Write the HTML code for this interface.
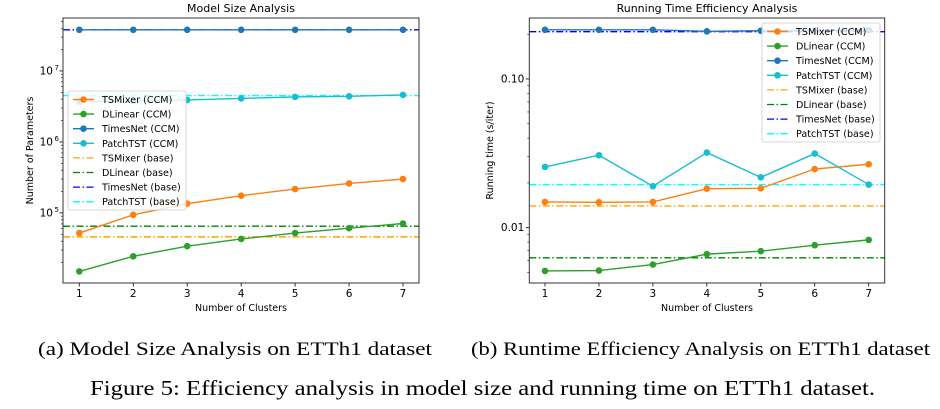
<!DOCTYPE html>
<html><head><meta charset="utf-8">
<style>
html,body{margin:0;padding:0;background:#fff;width:940px;height:409px;overflow:hidden}
svg{display:block}
text{font-family:"DejaVu Sans","Liberation Sans",sans-serif}
text.cap{font-family:"Liberation Serif","Times New Roman",Times,serif}
</style></head>
<body>
<svg id="fig" width="940" height="409" viewBox="0 0 940 409">
<text class="cap" font-family="Liberation Serif, serif" x="38" y="355" font-size="19" textLength="394" lengthAdjust="spacingAndGlyphs">(a) Model Size Analysis on ETTh1 dataset</text>
<text class="cap" font-family="Liberation Serif, serif" x="471" y="355" font-size="19" textLength="459" lengthAdjust="spacingAndGlyphs">(b) Runtime Efficiency Analysis on ETTh1 dataset</text>
<text class="cap" font-family="Liberation Serif, serif" x="90" y="395" font-size="21" textLength="785" lengthAdjust="spacingAndGlyphs">Figure 5: Efficiency analysis in model size and running time on ETTh1 dataset.</text>
</svg>
<script>
const clusters=[1,2,3,4,5,6,7];
const seriesNames=["TSMixer (CCM)","DLinear (CCM)","TimesNet (CCM)","PatchTST (CCM)","TSMixer (base)","DLinear (base)","TimesNet (base)","PatchTST (base)"];
// Model size
const sizeTSMixer=[52000,94000,135000,175000,217000,260000,300000];
const sizeDLinear=[15000,24500,34000,43000,52000,61000,71000];
const sizeTimesNet=[38000000,38000000,38000000,38000000,38000000,38000000,38000000];
const sizePatchTST=[3700000,3750000,3900000,4100000,4300000,4400000,4600000];
const sizeBase=[46000,65000,38000000,4500000];
const sizeTicks=[1e5,1e6,1e7];
const sizeTickLabels=["10","10","10"];
const sizeTickExp=["5","6","7"];
// Running time
const timeTSMixer=[0.0149,0.0148,0.0149,0.0183,0.0184,0.0248,0.0267];
const timeDLinear=[0.00512,0.00515,0.00565,0.00664,0.00695,0.00762,0.00828];
const timeTimesNet=[0.214,0.214,0.214,0.209,0.211,0.212,0.213];
const timePatchTST=[0.0256,0.0307,0.019,0.032,0.0218,0.0315,0.0195];
const timeBase=[0.014,0.00627,0.208,0.0195];
const timeTicks=[0.01,0.1];
const timeTickLabels=["0.01","0.10"];

const NS="http://www.w3.org/2000/svg";
const svg=document.getElementById('fig');
const ccmColors=["#ff7f0e","#2ca02c","#1f77b4","#17becf"];
const baseColors=["orange","green","blue","cyan"];
function mk(tag,attrs,parent){const e=document.createElementNS(NS,tag);for(const k in attrs)e.setAttribute(k,attrs[k]);(parent||svg).appendChild(e);return e;}

function chart(cfg){
  const g=mk('g',{});
  
  
  const {L,R,T,B,x1px,x7px,lmin,lmax}=cfg;
  const X=v=>x1px+(v-1)*(x7px-x1px)/6;
  const Y=v=>B-(Math.log10(v)-lmin)/(lmax-lmin)*(B-T);
  for(let d=Math.floor(lmin);d<=Math.ceil(lmax);d++){
    for(let m=2;m<=9;m++){const v=m*Math.pow(10,d);const lv=Math.log10(v);if(lv<lmin||lv>lmax)continue;
      const t=mk('line',{x1:L-2,x2:L,y1:Y(v),y2:Y(v),stroke:"#000","stroke-width":0.6},g);
      
      }
  }
  cfg.ticks.forEach((v,i)=>{
    const t=mk('line',{x1:L-3.5,x2:L,y1:Y(v),y2:Y(v),stroke:"#000","stroke-width":0.8},g);
    
    
    const tx=mk('text',{x:L-5,y:Y(v)+3.5,"font-size":10.5,"text-anchor":"end",fill:"#000"},g);
    
    
    if(cfg.exps){tx.setAttribute('x',L-10);tx.textContent=cfg.labels[i];
      const ex=mk('text',{x:L-4,y:Y(v)-1,"font-size":7,"text-anchor":"end"},g);ex.textContent=cfg.exps[i];
      
      }
    else tx.textContent=cfg.labels[i];
  });
  clusters.forEach(c=>{
    const t=mk('line',{x1:X(c),x2:X(c),y1:B,y2:B+3.5,stroke:"#000","stroke-width":0.8},g);
    
    
    const tx=mk('text',{x:X(c),y:B+14,"font-size":10.5,"text-anchor":"middle"},g);tx.textContent=c;
    
    
  });
  cfg.base.forEach((v,i)=>{
    const l=mk('line',{x1:L,x2:R,y1:Y(v),y2:Y(v),stroke:baseColors[i],"stroke-width":1.4,"stroke-dasharray":"7,2.5,1.5,2.5"},g);
    
    
  });
  cfg.series.forEach((arr,i)=>{
    const p=mk('polyline',{points:arr.map((v,j)=>X(clusters[j])+","+Y(v)).join(" "),fill:"none",stroke:ccmColors[i],"stroke-width":1.4},g);
    
    
    arr.forEach((v,j)=>{const c=mk('circle',{cx:X(clusters[j]),cy:Y(v),r:3.3,fill:ccmColors[i]},g);
      
      });
  });
  const fr=mk('rect',{x:L,y:T,width:R-L,height:B-T,fill:"none",stroke:"#333","stroke-width":1},g);
  
  
  const ti=mk('text',{x:(L+R)/2,y:12,"font-size":11,"text-anchor":"middle"},g);ti.textContent=cfg.title;
  
  
  const xt=mk('text',{x:(L+R)/2,y:311,"font-size":9.5,"text-anchor":"middle"},g);xt.textContent="Number of Clusters";
  
  
  const yt=mk('text',{x:0,y:0,"font-size":9.5,"text-anchor":"middle",transform:`translate(${cfg.ytx},${(T+B)/2}) rotate(-90)`},g);yt.textContent=cfg.ytitle;
  
  
  const lg=mk('g',{},g);
  
  
  mk('rect',{x:cfg.lx,y:cfg.ly,width:118,height:119,rx:2,fill:"#fff","fill-opacity":0.8,stroke:"#ccc","stroke-width":0.8},lg);
  seriesNames.forEach((n,i)=>{
    const yy=cfg.ly+8.5+i*14.6, xx=cfg.lx+5;
    const e=mk('g',{},lg);
    
    
    if(i<4){mk('line',{x1:xx,x2:xx+21,y1:yy,y2:yy,stroke:ccmColors[i],"stroke-width":1.4},e);mk('circle',{cx:xx+10.5,cy:yy,r:3.3,fill:ccmColors[i]},e);}
    else mk('line',{x1:xx,x2:xx+21,y1:yy,y2:yy,stroke:baseColors[i-4],"stroke-width":1.3,"stroke-dasharray":"7,2.5,1.5,2.5"},e);
    const t=mk('text',{x:xx+29,y:yy+3.5,"font-size":9.6},e);t.textContent=n;
  });
}
chart({name:'model-size-chart',title:'Model Size Analysis',ytitle:'Number of Parameters',ytx:33,L:63,R:419,T:18,B:283,x1px:79.3,x7px:403,lmin:4.013,lmax:7.746,
  ticks:sizeTicks,labels:sizeTickLabels,exps:sizeTickExp,base:sizeBase,series:[sizeTSMixer,sizeDLinear,sizeTimesNet,sizePatchTST],lx:68,ly:91});
chart({name:'running-time-chart',title:'Running Time Efficiency Analysis',ytitle:'Running time (s/iter)',ytx:493,L:529.3,R:884.7,T:18,B:283,x1px:545,x7px:868.7,lmin:-2.372,lmax:-0.59,
  ticks:timeTicks,labels:timeTickLabels,exps:null,base:timeBase,series:[timeTSMixer,timeDLinear,timeTimesNet,timePatchTST],lx:762,ly:23});
</script>
</body></html>
